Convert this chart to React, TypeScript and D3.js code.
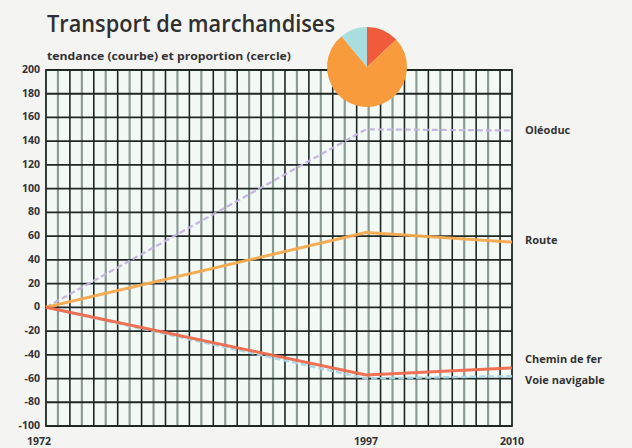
import React from "react";
import * as d3 from "d3";

const years = [1972, 1997, 2010];
const seriesNames = ["Oléoduc", "Route", "Chemin de fer", "Voie navigable"];
const oleoduc = [0, 150, 149];
const route = [0, 63, 55];
const cheminDeFer = [0, -57, -51];
const voieNavigable = [0, -60, -58];
const yTicks = [200, 180, 160, 140, 120, 100, 80, 60, 40, 20, 0, -20, -40, -60, -80, -100];
const xTickLabels = ["1972", "1997", "2010"];
const pieNames = ["Chemin de fer", "Route", "Voie navigable"];
const pieShares = [13, 76, 11];

const W = 632, H = 448;
const L = 46, R = 512, T = 70, B = 426;
const VDIV = 39;

export default function App() {
  const x = d3.scaleLinear().domain(years).range([L, 366, R]);
  const y = d3.scaleLinear().domain([-100, 200]).range([B, T]);
  const line = d3.line<number>().x((_, i) => x(years[i])).y((v) => y(v));

  const gx = d3.scaleLinear().domain([0, VDIV]).range([L, R]);
  const vIdx = d3.range(1, VDIV);

  const pie = d3.pie<number>().sort(null).value((d) => d)(pieShares);
  const arc = d3.arc<d3.PieArcDatum<number>>().innerRadius(0).outerRadius(40);
  const pieColors = ["#ef5b3b", "#f79b3c", "#a9dde0"];

  const series = [
    { name: seriesNames[3], data: voieNavigable, color: "#a8d6e6", width: 2.5, dash: "6 3", labelY: 384 },
    { name: seriesNames[0], data: oleoduc, color: "#c3b3e0", width: 2.2, dash: "6 3", labelY: 134 },
    { name: seriesNames[1], data: route, color: "#f6a94e", width: 3, dash: null, labelY: 244 },
    { name: seriesNames[2], data: cheminDeFer, color: "#ee6a4c", width: 3, dash: null, labelY: 363 },
  ];

  const font = "'Open Sans', 'DejaVu Sans', sans-serif";

  return (
    <svg
      width={W}
      height={H}
      style={{ position: "fixed", left: 0, top: 0, display: "block" }}
      fontFamily={font}
    >
      <rect x={0} y={0} width={W} height={H} fill="#f4f4f3" />
      <text x={47} y={32} fontSize={23} fontWeight={600} fill="#2f2f2f" textLength={288} lengthAdjust="spacingAndGlyphs">
        Transport de marchandises
      </text>
      <text x={47} y={60} fontSize={10} fontWeight={700} fill="#333" textLength={244} lengthAdjust="spacingAndGlyphs">
        tendance (courbe) et proportion (cercle)
      </text>

      <rect x={L} y={T} width={R - L} height={B - T} fill="#f3faf6" />
      {vIdx.map((i) => (
        <line
          key={"v" + i}
          x1={gx(i)}
          x2={gx(i)}
          y1={T}
          y2={B}
          stroke={i % 2 === 0 ? "#1f2824" : "#8d9c93"}
          strokeWidth={i % 2 === 0 ? 1.6 : 2.2}
        />
      ))}
      {yTicks.map((t) => (
        <line key={"h" + t} x1={L} x2={R} y1={y(t)} y2={y(t)} stroke="#1f2824" strokeWidth={1.8} />
      ))}
      <rect x={L} y={T} width={R - L} height={B - T} fill="none" stroke="#1f2824" strokeWidth={1.8} />

      {yTicks.map((t) => (
        <text key={"yl" + t} x={40} y={y(t) + 3} fontSize={10.5} fontWeight={700} fill="#333" textAnchor="end">
          {t}
        </text>
      ))}
      {xTickLabels.map((lab, i) => (
        <text key={"xl" + lab} x={i === 0 ? 39 : x(years[i])} y={445} fontSize={10.5} fontWeight={700} fill="#333" textAnchor="middle">
          {lab}
        </text>
      ))}

      {series.map((s) => (
        <path
          key={s.name}
          d={line(s.data) || ""}
          fill="none"
          stroke={s.color}
          strokeWidth={s.width}
          strokeDasharray={s.dash || undefined}
          strokeLinejoin="round"
          opacity={0.95}
        />
      ))}
      {series.map((s) => (
        <text key={"sl" + s.name} x={525} y={s.labelY} fontSize={11} fontWeight={700} fill="#333">
          {s.name}
        </text>
      ))}

      <g transform="translate(367,67)">
        {pie.map((p, i) => (
          <path key={pieNames[i]} d={arc(p) || ""} fill={pieColors[i]} />
        ))}
      </g>
    </svg>
  );
}
